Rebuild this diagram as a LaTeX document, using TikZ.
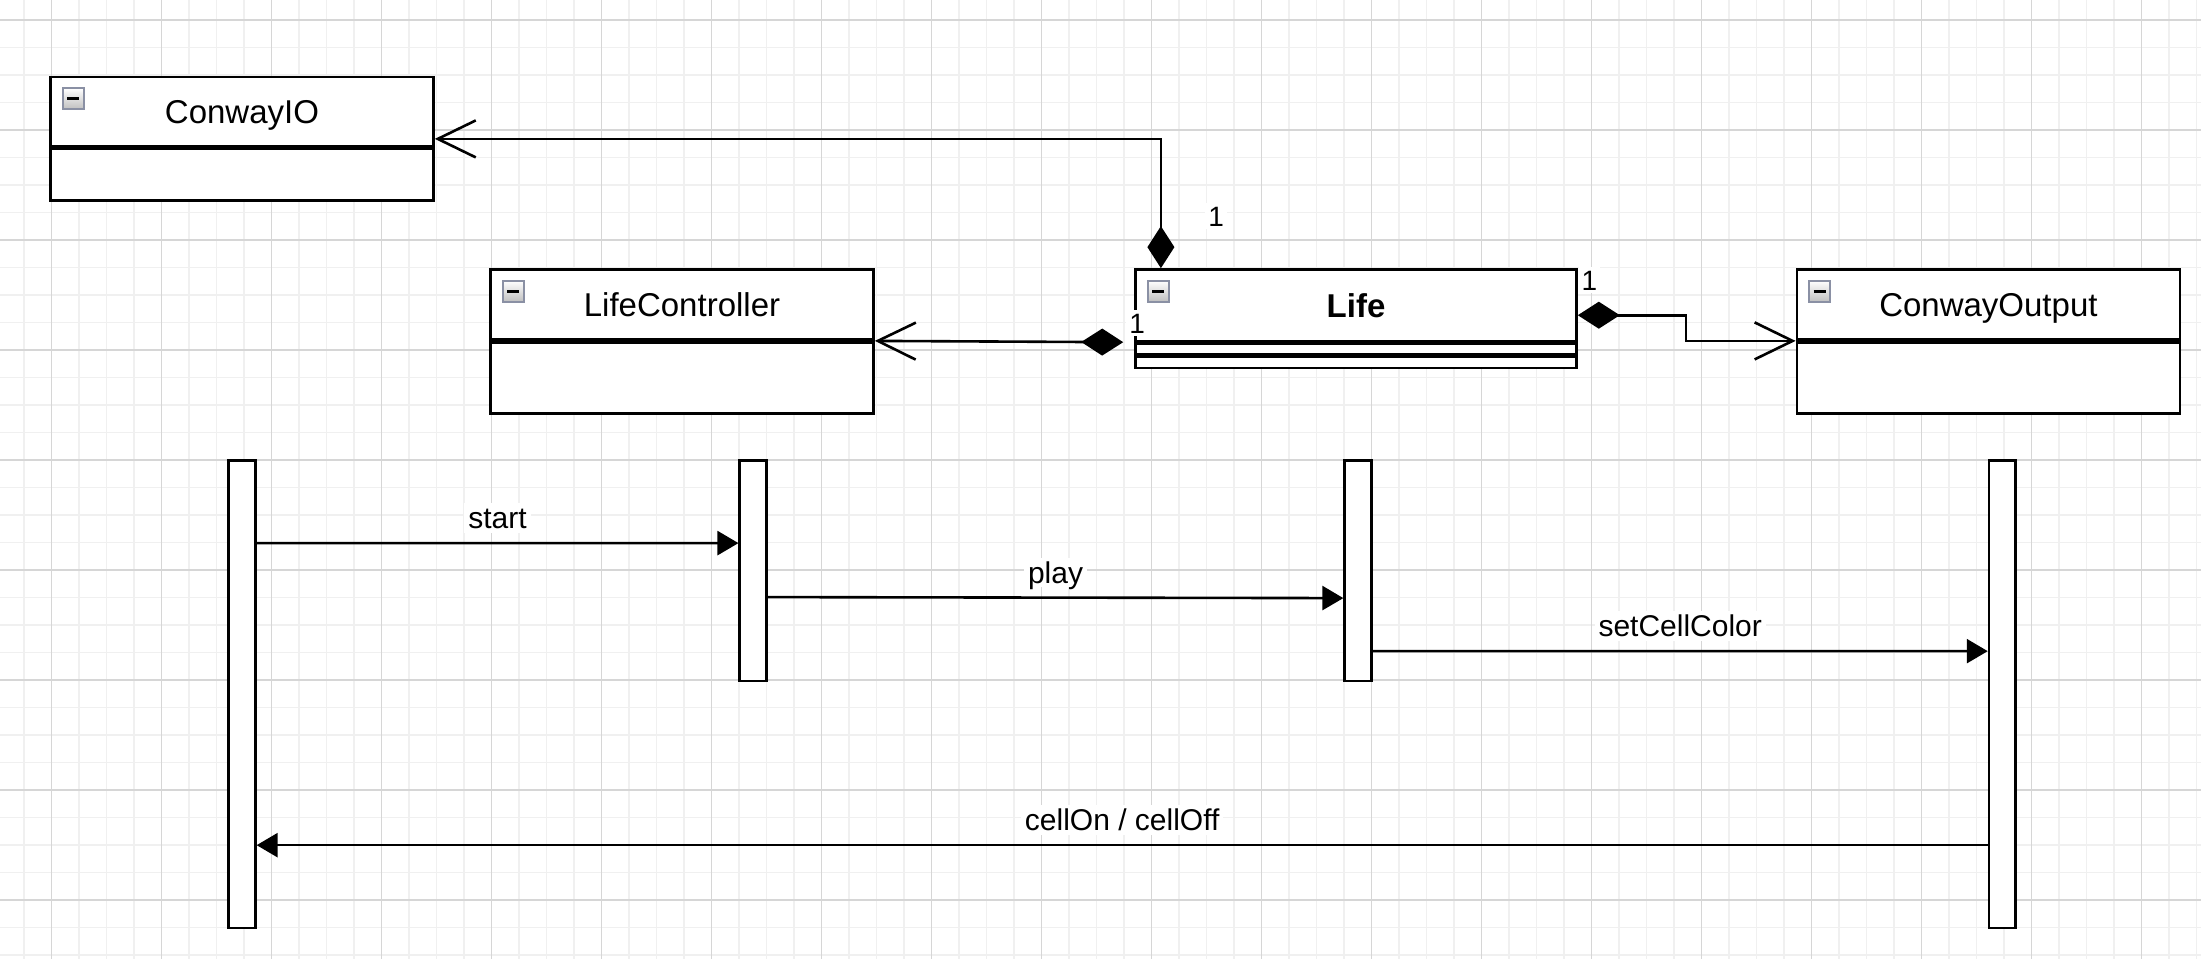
\documentclass[tikz,border=0pt]{standalone}
\usepackage{fontspec}
\setmainfont{Liberation Sans}
\usetikzlibrary{positioning,arrows.meta}

\definecolor{gridmin}{HTML}{F0F0F0}
\definecolor{gridmaj}{HTML}{D6D6D6}
\definecolor{iconedge}{HTML}{8A90A4}

\tikzset{
  gridminor/.style={gridmin, line width=1.5pt},
  gridmajor/.style={gridmaj, line width=1.5pt},
  classhead/.style={draw, line width=2.6pt, fill=white, inner sep=0pt,
    minimum width=383pt, minimum height=70pt, text height=23.6pt, text depth=0pt,
    font=\fontsize{33}{38}\selectfont},
  classbody/.style={draw, line width=2.6pt, fill=white, inner sep=0pt,
    minimum width=383pt, minimum height=71pt},
  compart/.style={draw, line width=2.6pt, fill=white, inner sep=0pt,
    minimum width=441pt, minimum height=11pt},
  foldicon/.style={draw=iconedge, line width=2pt, top color=white, bottom color=black!25,
    minimum size=21pt, inner sep=0pt,
    path picture={\draw[black, line width=3.2pt] ([xshift=-6pt]path picture bounding box.center)
      -- ([xshift=6pt]path picture bounding box.center);}},
  lifebar/.style={draw, line width=2.6pt, fill=white, inner sep=0pt, minimum width=26.7pt},
  msg/.style={line width=2.6pt, -{Triangle[length=21pt,width=24pt]}},
  msglabel/.style={fill=white, inner sep=4pt, text height=21.5pt, text depth=0pt,
    font=\fontsize{30}{36}\selectfont},
  owns/.style={line width=2.6pt, {Diamond[length=42pt,width=27pt]}-{Straight Barb[length=38pt,width=37pt]}},
  mult/.style={fill=white, inner sep=3pt, text height=20pt, text depth=0pt,
    font=\fontsize{28}{32}\selectfont}
}

\begin{document}
\begin{tikzpicture}[x=1pt, y=-1pt]
    % Fondo y cuadrícula
    \fill[white, use as bounding box] (0,0) rectangle (2201,959);
    \foreach \k in {0,...,79} \draw[gridminor] (24+27.5*\k,0) -- ++(0,959);
    \foreach \k in {0,...,34} \draw[gridminor] (0,20+27.5*\k) -- ++(2201,0);
    \foreach \k in {0,...,19} \draw[gridmajor] (51.5+110*\k,0) -- ++(0,959);
    \foreach \k in {0,...,8} \draw[gridmajor] (0,20+110*\k) -- ++(2201,0);
    % Clases
    \node[classhead, minimum height=69pt] (io) at (242,111.5) {ConwayIO};
    \node[classbody, minimum height=52pt, below=0pt of io] (iobody) {};
    \node[classhead] (lc) at (682,304.6) {LifeController};
    \node[classbody, below=0pt of lc] (lcbody) {};
    \node[classhead, minimum width=441pt, minimum height=71.5pt,
      font=\fontsize{33}{38}\selectfont\bfseries] (life) at (1356,305.2) {Life};
    \node[compart, below=0pt of life] (lifeattr) {};
    \node[compart, below=0pt of lifeattr] (lifeops) {};
    \node[classhead] (co) at (1988.4,304.6) {ConwayOutput};
    \node[classbody, below=0pt of co] (cobody) {};
    \foreach \c in {io,lc,life,co}
      \node[foldicon] (\c fold) at ([shift={(24pt,-23pt)}]\c.north west) {};
    % Asociaciones (composición)
    \draw[owns] ([xshift=26.7pt]life.north west) |- ([yshift=8.4pt]io.south east);
    \draw[owns, shorten <=11pt] (life.south west) -- (lc.south east);
    \draw[owns] ([yshift=-10pt]life.east) -- ++(108,0) |- (co.south west);
    \node[mult] (mio) at ([shift={(82pt,52pt)}]life.north west) {1};
    \node[mult] (mlc) at ([shift={(3pt,19pt)}]life.south west) {1};
    \node[mult] (mco) at ([shift={(11.5pt,-12pt)}]life.north east) {1};
    % Barras de activación
    \node[lifebar, minimum height=467.5pt] (ioact) at (242,694.2) {};
    \node[lifebar, minimum height=220.4pt] (lcact) at (753.1,570.6) {};
    \node[lifebar, minimum height=220.4pt] (lifeact) at (1358,570.6) {};
    \node[lifebar, minimum height=467.5pt] (coact) at (2002.4,694.2) {};
    % Mensajes
    \draw[msg] ([yshift=-84pt]ioact.north east) -- ([yshift=-84pt]lcact.north west)
      node[msglabel, midway, yshift=25pt] (mstart) {start};
    \draw[msg] ([yshift=-138pt]lcact.north east) -- ([yshift=-139pt]lifeact.north west)
      node[msglabel, midway, yshift=25pt] (mplay) {play};
    \draw[msg] ([yshift=-192pt]lifeact.north east) -- ([yshift=-192pt]coact.north west)
      node[msglabel, midway, yshift=25pt] (mset) {setCellColor};
    \draw[msg] ([yshift=-386pt]coact.north west) -- ([yshift=-386pt]ioact.north east)
      node[msglabel, midway, yshift=25pt] (mcell) {cellOn / cellOff};
\end{tikzpicture}
\end{document}
